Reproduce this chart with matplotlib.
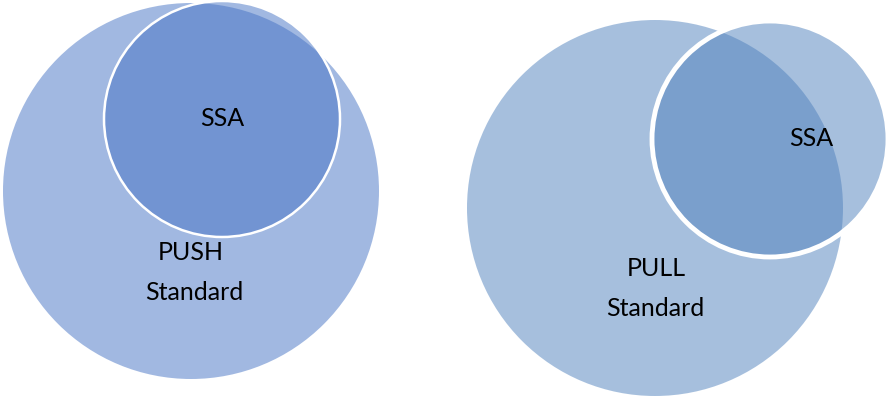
import matplotlib.pyplot as plt
from matplotlib.patches import Circle

# circles: (x, y, radius) in pixel space of the 890x397 picture
push_std = (191, 191, 188)
push_ssa = (222, 119, 118)
pull_std = (655, 208, 188)
pull_ssa = (770, 139, 118)

labels = ['SSA', 'PUSH', 'Standard', 'SSA', 'PULL', 'Standard']
label_pos = [(222, 118), (191, 253), (194, 293), (811, 138), (656, 268), (655, 308)]

left_col = '#4472C4'
right_col = '#4F81BD'

fig = plt.figure(figsize=(8.9, 3.97), dpi=100)
ax = fig.add_axes([0, 0, 1, 1])
ax.set_xlim(0, 890)
ax.set_ylim(397, 0)
ax.set_aspect('equal')
ax.axis('off')

# left diagram
x, y, r = push_std
ax.add_patch(Circle((x, y), r, facecolor=left_col, alpha=0.5, edgecolor='none'))
x, y, r = push_ssa
ax.add_patch(Circle((x, y), r, facecolor=left_col, alpha=0.5, edgecolor='none'))
ax.add_patch(Circle((x, y), r, facecolor='none', edgecolor='white', linewidth=1.8))

# right diagram
x, y, r = pull_std
ax.add_patch(Circle((x, y), r, facecolor=right_col, alpha=0.5, edgecolor='none'))
x, y, r = pull_ssa
ax.add_patch(Circle((x, y), r, facecolor=right_col, alpha=0.5, edgecolor='none'))
ax.add_patch(Circle((x, y), r, facecolor='none', edgecolor='white', linewidth=3.5))

for txt, (tx, ty) in zip(labels, label_pos):
    ax.text(tx, ty, txt, ha='center', va='center', fontsize=18,
            family=['Lato', 'DejaVu Sans'], color='black')

fig.savefig('out.png', dpi=100)
